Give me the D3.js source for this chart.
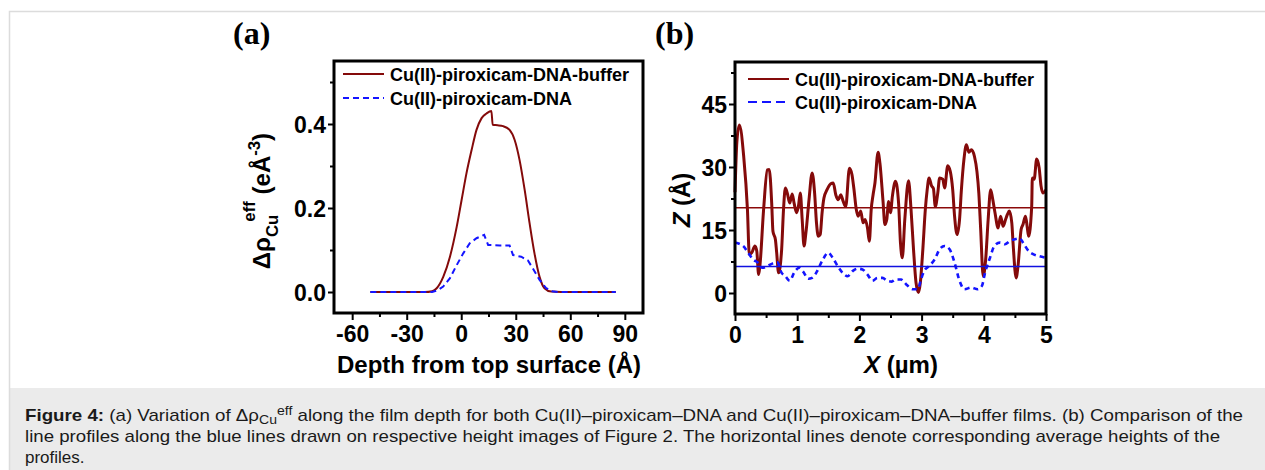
<!DOCTYPE html>
<html>
<head>
<meta charset="utf-8">
<script src="https://cdn.jsdelivr.net/npm/d3@7"></script>
<style>
  body { margin: 0; background: #fff; }
  svg { display: block; }
</style>
</head>
<body>
<svg id="fig" width="1265" height="470"></svg>
<script>
// ---- panel (a): Cu density profile vs depth ----
const depthTicks = [-60, -30, 0, 30, 60, 90];
const depthMinor = [-45, -15, 15, 45, 75];
const rhoTicks = [0.0, 0.2, 0.4];
const rhoMinor = [0.1, 0.3, 0.5];

const rhoBuffer = [
  [-50, 0], [-20, 0], [-16, 0.002], [-13.5, 0.009], [-9.9, 0.036], [-6.2, 0.084],
  [-2.5, 0.155], [0.2, 0.219], [2.9, 0.283], [5.7, 0.338], [8.4, 0.386], [11.2, 0.414],
  [13.9, 0.425], [16.6, 0.431], [17.3, 0.398], [20, 0.397], [23, 0.395], [26.6, 0.386],
  [29.4, 0.362], [32.1, 0.314], [34.9, 0.243], [37.6, 0.164], [40.3, 0.092], [43.1, 0.036],
  [45.8, 0.009], [49.5, 0.001], [55, 0], [85, 0]
];
const rhoNoBuffer = [
  [-50, 0], [-16, 0], [-13, 0.004], [-9.9, 0.013], [-6.2, 0.033], [-2.5, 0.064],
  [1.1, 0.092], [4.7, 0.116], [8.4, 0.128], [12.6, 0.136], [14.8, 0.112], [21.2, 0.111],
  [26.6, 0.111], [28.5, 0.088], [33.0, 0.084], [36.7, 0.075], [39.4, 0.056], [43.1, 0.029],
  [46.7, 0.009], [50, 0.002], [53, 0], [85, 0]
];

// ---- panel (b): AFM line profiles ----
const xTicks = [0, 1, 2, 3, 4, 5];
const xMinor = [0.5, 1.5, 2.5, 3.5, 4.5];
const zTicks = [0, 15, 30, 45];
const zMinor = [7.5, 22.5, 37.5, 52.5];

const zBuffer = [
  [0, 24], [0.03, 36], [0.07, 40], [0.14, 32.5], [0.2, 19.9], [0.23, 9.2], [0.27, 9.6],
  [0.32, 11.2], [0.35, 10], [0.38, 4.4], [0.4, 6.4], [0.46, 19.9], [0.52, 29.3], [0.55, 29.4],
  [0.59, 21.4], [0.61, 14.7], [0.65, 12.7], [0.67, 9.6], [0.7, 4.8], [0.75, 10.4], [0.78, 19.9],
  [0.81, 25.0], [0.84, 23.8], [0.88, 21.4], [0.92, 23.6], [0.95, 21.4], [0.99, 19.1],
  [1.02, 20.7], [1.05, 23.8], [1.08, 17.5], [1.11, 11.2], [1.14, 14.3], [1.19, 22.2],
  [1.24, 28.6], [1.28, 23.8], [1.31, 16.7], [1.34, 13.5], [1.37, 13.9], [1.4, 19.1],
  [1.43, 22.6], [1.48, 24.6], [1.54, 26.0], [1.58, 26.2], [1.62, 23.4], [1.66, 22.2],
  [1.7, 23.4], [1.74, 21.8], [1.78, 20.6], [1.84, 29.7], [1.88, 28.2], [1.91, 25.0],
  [1.95, 19.9], [1.98, 18.3], [2.02, 19.5], [2.06, 16.7], [2.09, 17.5], [2.13, 15.5],
  [2.16, 12.3], [2.19, 19.9], [2.22, 23.4], [2.25, 26.2], [2.3, 33.5], [2.33, 30.9],
  [2.38, 21.8], [2.41, 16.3], [2.44, 17.5], [2.47, 21.8], [2.5, 19.1], [2.53, 23.0],
  [2.58, 26.6], [2.63, 21.4], [2.66, 12.0], [2.69, 8.4], [2.73, 17.5], [2.79, 26.7],
  [2.83, 19.9], [2.87, 10.4], [2.91, 2.5], [2.95, 0.1], [2.98, 2.5], [3.02, 10.4],
  [3.06, 19.9], [3.09, 24.6], [3.12, 27.4], [3.16, 25.5], [3.19, 24.9], [3.22, 20.6],
  [3.26, 23.8], [3.29, 27.4], [3.34, 27.1], [3.37, 25.0], [3.42, 30.3], [3.46, 29.0],
  [3.5, 24.6], [3.53, 18.3], [3.57, 13.9], [3.61, 17.5], [3.64, 24.6], [3.68, 31.7],
  [3.72, 35.3], [3.76, 33.5], [3.8, 34.1], [3.85, 32.5], [3.89, 28.9], [3.92, 23.8],
  [3.95, 15.1], [3.99, 4.0], [4.03, 8.0], [4.07, 17.5], [4.11, 24.6], [4.14, 22.6],
  [4.18, 19.1], [4.23, 15.5], [4.27, 18.3], [4.31, 15.9], [4.35, 17.5], [4.38, 18.7],
  [4.41, 19.5], [4.45, 16.7], [4.47, 12.0], [4.52, 3.6], [4.55, 6.4], [4.6, 15.1],
  [4.63, 16.3], [4.67, 18.3], [4.7, 15.5], [4.72, 13.5], [4.77, 20.6], [4.78, 27.4],
  [4.81, 27.1], [4.85, 31.9], [4.89, 29.8], [4.92, 25.5], [4.95, 23.8], [5.0, 24.6]
];
const zNoBuffer = [
  [0, 12.0], [0.13, 11.2], [0.21, 9.6], [0.29, 8.0], [0.37, 7.2], [0.44, 6.0], [0.52, 6.4],
  [0.6, 7.0], [0.68, 7.3], [0.75, 4.8], [0.81, 4.0], [0.88, 2.9], [0.95, 4.8], [1.03, 6.0],
  [1.09, 5.2], [1.18, 3.4], [1.24, 3.6], [1.32, 5.2], [1.4, 7.6], [1.5, 9.6], [1.57, 8.4],
  [1.65, 6.4], [1.73, 4.8], [1.81, 4.0], [1.89, 5.2], [1.97, 5.8], [2.05, 5.6], [2.13, 4.4],
  [2.21, 2.9], [2.29, 3.6], [2.37, 3.6], [2.45, 2.9], [2.52, 2.7], [2.58, 3.2], [2.67, 3.2],
  [2.75, 2.1], [2.86, 0.9], [2.94, 0.9], [2.99, 3.2], [3.04, 5.2], [3.12, 6.4], [3.21, 8.0],
  [3.29, 10.4], [3.37, 11.2], [3.45, 10.4], [3.53, 7.2], [3.61, 2.9], [3.69, 0.9], [3.8, 1.3],
  [3.9, 0.9], [3.97, 1.7], [4.02, 4.8], [4.1, 8.4], [4.17, 11.2], [4.26, 12.0], [4.34, 11.6],
  [4.42, 12.4], [4.5, 12.8], [4.58, 13.0], [4.63, 12.0], [4.72, 10.0], [4.8, 9.2], [4.88, 8.8],
  [5.0, 8.4]
];
const zMeans = [20.3, 6.3];

const seriesNames = ['Cu(II)-piroxicam-DNA-buffer', 'Cu(II)-piroxicam-DNA'];
const RED = '#840a0a', BLUE = '#1414ff';

const captionLine2 = 'line profiles along the blue lines drawn on respective height images of Figure 2. The horizontal lines denote corresponding average heights of the';
const captionLine3 = 'profiles.';

const FONT = 'Liberation Sans, Arial, sans-serif';
const svg = d3.select('#fig');

// page frame + caption band
svg.append('rect').attr('x', 10).attr('y', 388).attr('width', 1255).attr('height', 82).attr('fill', '#ebebeb');
svg.append('path').attr('d', 'M9.5,470 V11.5 H1265').attr('fill', 'none').attr('stroke', '#dcdcdc').attr('stroke-width', 1.5);

function drawPanel(p) {
  const x = d3.scaleLinear().domain(p.xDom).range([p.left, p.right]);
  const y = d3.scaleLinear().domain(p.yDom).range([p.bottom, p.top]);
  const g = svg.append('g').style('font-family', FONT);

  const styleAxis = a => {
    a.select('.domain').remove();
    a.selectAll('line').attr('stroke', '#000').attr('stroke-width', 2);
    a.selectAll('text').attr('fill', '#000').style('font-size', '23px').style('font-weight', 'bold').style('font-family', FONT);
  };

  g.append('g').attr('transform', `translate(0,${p.bottom})`)
    .call(d3.axisBottom(x).tickValues(p.xMinor).tickSize(4).tickFormat(''))
    .call(styleAxis);
  g.append('g').attr('transform', `translate(${p.left},0)`)
    .call(d3.axisLeft(y).tickValues(p.yMinor).tickSize(4).tickFormat(''))
    .call(styleAxis);

  g.append('g').attr('transform', `translate(0,${p.bottom})`)
    .call(d3.axisBottom(x).tickValues(p.xTicks).tickSize(7).tickFormat(d => String(d)))
    .call(styleAxis)
    .call(a => a.selectAll('text').attr('y', 29).attr('dy', null));
  g.append('g').attr('transform', `translate(${p.left},0)`)
    .call(d3.axisLeft(y).tickValues(p.yTicks).tickSize(6).tickFormat(p.yFmt))
    .call(styleAxis)
    .call(a => a.selectAll('text').attr('x', -8).attr('dy', '0.36em'));

  const smooth = d3.line().x(d => x(d[0])).y(d => y(d[1])).curve(d3.curveMonotoneX);
  const straight = d3.line().x(d => x(d[0])).y(d => y(d[1]));
  g.append('path').datum(p.red).attr('d', smooth)
    .attr('fill', 'none').attr('stroke', RED).attr('stroke-width', p.lw).attr('stroke-linejoin', 'round');
  g.append('path').datum(p.blue).attr('d', p.blueSmooth ? smooth : straight)
    .attr('fill', 'none').attr('stroke', BLUE).attr('stroke-width', p.blw).attr('stroke-dasharray', p.dash);

  if (p.means) {
    g.selectAll('.mean').data(p.means).join('line')
      .attr('x1', p.left).attr('x2', p.right)
      .attr('y1', d => y(d)).attr('y2', d => y(d))
      .attr('stroke', (d, i) => i ? '#1010e0' : '#8b0a0a').attr('stroke-width', 1.6);
  }

  g.append('rect').attr('x', p.left).attr('y', p.top)
    .attr('width', p.right - p.left).attr('height', p.bottom - p.top)
    .attr('fill', 'none').attr('stroke', '#000').attr('stroke-width', 3);

  // legend
  const lg = g.append('g').style('font-size', '18px').style('font-weight', 'bold');
  seriesNames.forEach((name, i) => {
    const ly = p.legY[i];
    lg.append('line').attr('x1', p.legX).attr('x2', p.legX + 41).attr('y1', ly).attr('y2', ly)
      .attr('stroke', i ? BLUE : RED).attr('stroke-width', 2)
      .attr('stroke-dasharray', i ? p.legDash : null);
    lg.append('text').attr('x', p.legX + 47).attr('y', ly).attr('dy', '0.38em').text(name);
  });

  // panel letter
  svg.append('text').attr('x', p.letterX).attr('y', 44)
    .style('font-family', 'Liberation Serif, Times New Roman, serif')
    .style('font-weight', 'bold').style('font-size', '32px').text(p.letter);

  return g;
}

const ga = drawPanel({
  left: 334, right: 643, top: 61, bottom: 313,
  xDom: [-70, 100], yDom: [-0.05, 0.55],
  xTicks: depthTicks, xMinor: depthMinor, yTicks: rhoTicks, yMinor: rhoMinor,
  yFmt: d3.format('.1f'),
  red: rhoBuffer, blue: rhoNoBuffer, lw: 2, blw: 2, dash: '6,4', blueSmooth: false,
  legX: 343, legY: [74, 98], legDash: '6,4',
  letter: '(a)', letterX: 233
});

const gb = drawPanel({
  left: 735, right: 1046, top: 62, bottom: 314,
  xDom: [0, 5], yDom: [-5, 55],
  xTicks: xTicks, xMinor: xMinor, yTicks: zTicks, yMinor: zMinor,
  yFmt: d => String(d),
  red: zBuffer, blue: zNoBuffer, lw: 3, blw: 2.6, dash: '5,4', blueSmooth: true, means: zMeans,
  legX: 748, legY: [79, 102], legDash: '9,5',
  letter: '(b)', letterX: 655
});

// axis titles
const titleStyle = s => s.style('font-size', '24px').style('font-weight', 'bold').attr('text-anchor', 'middle');

ga.append('text').attr('x', 489).attr('y', 373).call(titleStyle).text('Depth from top surface (Å)');
const ya = ga.append('text').attr('transform', 'translate(270,201) rotate(-90)').call(titleStyle);
ya.append('tspan').text('Δρ');
ya.append('tspan').attr('font-size', '70%').attr('dy', 8).text('Cu');
ya.append('tspan').attr('font-size', '70%').attr('dx', -7).attr('dy', -23).text('eff');
ya.append('tspan').attr('dy', 15).text(' (eÅ');
ya.append('tspan').attr('font-size', '70%').attr('dy', -10).text('-3');
ya.append('tspan').attr('dy', 10).text(')');

const xb = gb.append('text').attr('x', 901).attr('y', 373).call(titleStyle);
xb.append('tspan').style('font-style', 'italic').text('X');
xb.append('tspan').text(' (µm)');
const yb = gb.append('text').attr('transform', 'translate(690,200) rotate(-90)').call(titleStyle);
yb.append('tspan').style('font-style', 'italic').text('Z');
yb.append('tspan').text(' (Å)');

// caption
const cap = svg.append('g').style('font-family', FONT).style('font-size', '17px').attr('fill', '#1a1a1a');
const c1 = cap.append('text').attr('x', 25).attr('y', 421)
  .attr('textLength', 1218).attr('lengthAdjust', 'spacingAndGlyphs');
c1.append('tspan').style('font-weight', 'bold').text('Figure 4:');
c1.append('tspan').text(' (a) Variation of Δρ');
c1.append('tspan').attr('font-size', '75%').attr('dy', 3).text('Cu');
c1.append('tspan').attr('font-size', '75%').attr('dy', -9).text('eff');
c1.append('tspan').attr('dy', 6).text(' along the film depth for both Cu(II)–piroxicam–DNA and Cu(II)–piroxicam–DNA–buffer films. (b) Comparison of the');
cap.append('text').attr('x', 25).attr('y', 442)
  .attr('textLength', 1195).attr('lengthAdjust', 'spacingAndGlyphs').text(captionLine2);
cap.append('text').attr('x', 25).attr('y', 463).text(captionLine3);
</script>
</body>
</html>
